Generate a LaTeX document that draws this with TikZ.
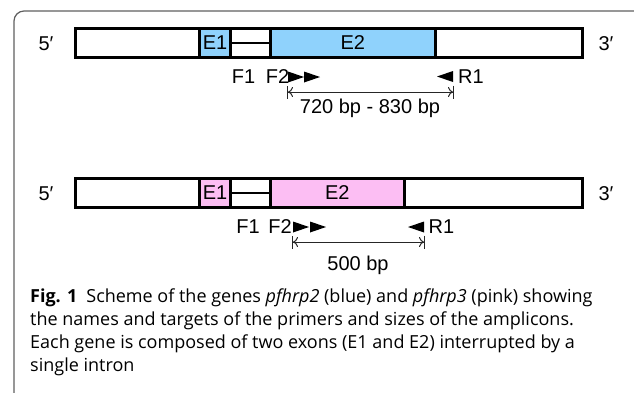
\documentclass[tikz,border=0pt]{standalone}
\usepackage{fontspec}
\setmainfont{Liberation Sans}
\newfontfamily\capfont{Open Sans}
\usetikzlibrary{arrows.meta}

\definecolor{exonblue}{RGB}{143,210,252}
\definecolor{exonpink}{RGB}{252,190,243}
\definecolor{framegray}{RGB}{95,95,95}

\tikzset{
  lbl/.style={font=\fontsize{20}{23}\selectfont,inner sep=0pt},
  gene/.style={lbl,draw,line width=3pt,fill=white,minimum height=29pt},
  exon/.style={gene,fill=#1},
  amplicon/.style={line width=1pt,draw=black!85,
    {Bar[width=13pt,line width=1pt]To[length=5pt,width=10pt,sep=0pt]}-{To[length=5pt,width=10pt,sep=0pt]Bar[width=13pt,line width=1pt]}},
  caption/.style={font=\capfont\fontsize{18}{23}\selectfont,inner sep=0pt,anchor=base west}
}
\newcommand{\fwdprimer}[1]{\fill (#1) ++(0,-5.5) -- ++(16,5.5) -- ++(-16,5.5) -- cycle;}
\newcommand{\revprimer}[1]{\fill (#1) -- ++(16,-5.5) -- ++(0,11) -- cycle;}

\begin{document}
\begin{tikzpicture}[x=1pt,y=-1pt]
  \useasboundingbox (0,0) rectangle (634,392);
  \draw[framegray,line width=1.2pt,rounded corners=10pt] (14,400) -- (14,11) -- (650,11);

  % pfhrp2
  \node (gene1) [gene,minimum width=507pt] at (329,43) {};
  \node (e1a) [exon=exonblue,minimum width=31pt] at (215,43) {E1};
  \node (e2a) [exon=exonblue,minimum width=164.5pt] at (352.75,43) {E2};
  \draw[line width=2pt] (e1a.east) -- (e2a.west);
  \node (p5a) [lbl] at (46,44) {5′};
  \node (p3a) [lbl] at (606,44) {3′};
  \node (f1a) [lbl] at (243.5,77) {F1};
  \node (f2a) [lbl] at (277.5,77) {F2};
  \node (r1a) [lbl] at (471,77) {R1};
  \coordinate (fa) at (288,77);
  \coordinate (fb) at (304,77);
  \coordinate (ra) at (437,76.5);
  \fwdprimer{fa} \fwdprimer{fb} \revprimer{ra}
  \coordinate (a1l) at (287,92);
  \coordinate (a1r) at (454,92);
  \draw[amplicon] (a1l) -- (a1r);
  \node (len1) [lbl] at (370,108) {720 bp - 830 bp};

  % pfhrp3
  \node (gene2) [gene,minimum width=507pt] at (329,193) {};
  \node (e1b) [exon=exonpink,minimum width=31pt] at (215,193) {E1};
  \node (e2b) [exon=exonpink,minimum width=133.5pt] at (337.25,193) {E2};
  \draw[line width=2pt] (e1b.east) -- (e2b.west);
  \node (p5b) [lbl] at (46,194) {5′};
  \node (p3b) [lbl] at (606,194) {3′};
  \node (f1b) [lbl] at (248,227) {F1};
  \node (f2b) [lbl] at (280,227) {F2};
  \node (r1b) [lbl] at (441.5,227) {R1};
  \coordinate (fc) at (293,227);
  \coordinate (fd) at (310,227);
  \coordinate (rb) at (408,227);
  \fwdprimer{fc} \fwdprimer{fd} \revprimer{rb}
  \coordinate (a2l) at (292,242);
  \coordinate (a2r) at (425,242);
  \draw[amplicon] (a2l) -- (a2r);
  \node (len2) [lbl] at (358,265) {500 bp};

  % caption
  \node (cap1) [caption] at (30,302) {\textbf{Fig. 1}\enspace Scheme of the genes \textit{pfhrp2} (blue) and \textit{pfhrp3} (pink) showing};
  \node (cap2) [caption] at (30,325) {the names and targets of the primers and sizes of the amplicons.};
  \node (cap3) [caption] at (30,348) {Each gene is composed of two exons (E1 and E2) interrupted by a};
  \node (cap4) [caption] at (30,371) {single intron};
\end{tikzpicture}
\end{document}
